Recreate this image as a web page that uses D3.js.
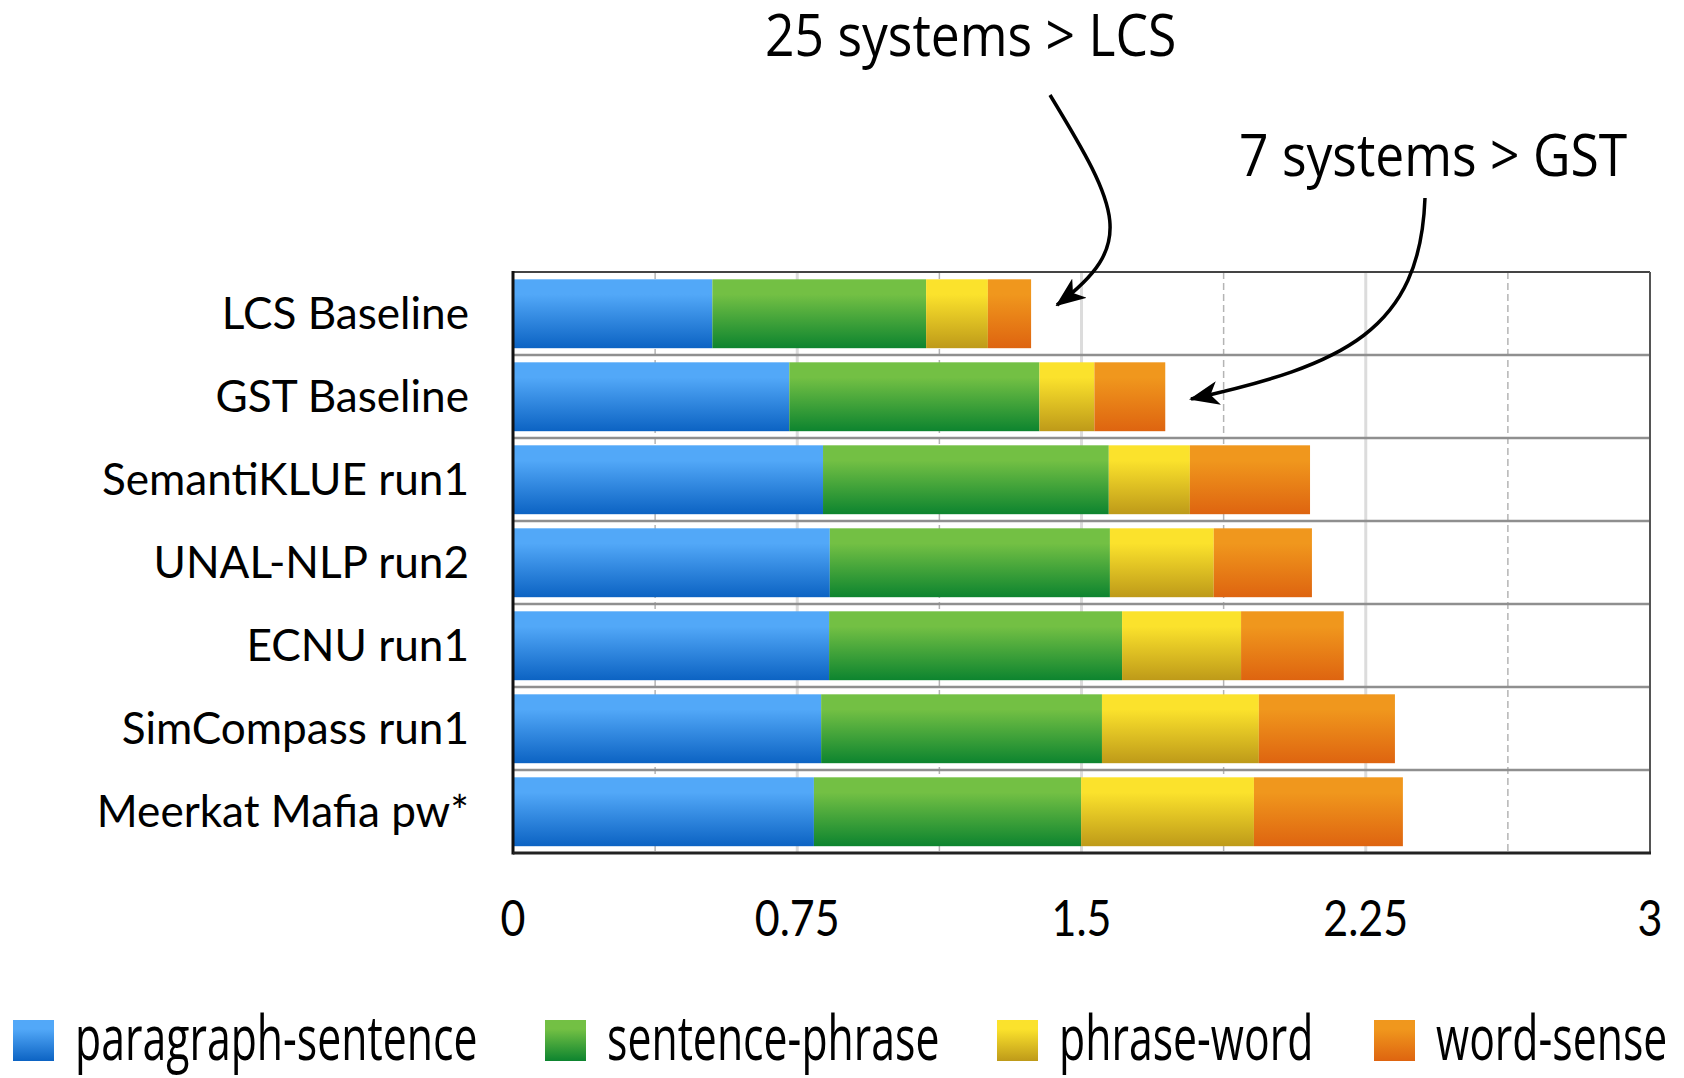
<!DOCTYPE html>
<html>
<head>
<meta charset="utf-8">
<script src="https://cdn.jsdelivr.net/npm/d3@7"></script>
<style>
  html, body { margin: 0; padding: 0; background: #fff; }
  svg { display: block; }
</style>
</head>
<body>
<svg id="chart" width="1684" height="1078"></svg>
<script>
// ---- data ----
const categories = ["LCS Baseline", "GST Baseline", "SemantiKLUE run1", "UNAL-NLP run2", "ECNU run1", "SimCompass run1", "Meerkat Mafia pw*"];
const seriesNames = ["paragraph-sentence", "sentence-phrase", "phrase-word", "word-sense"];
const paragraphSentence = [0.526, 0.729, 0.818, 0.836, 0.834, 0.813, 0.794];
const sentencePhrase    = [0.564, 0.660, 0.754, 0.739, 0.773, 0.741, 0.705];
const phraseWord        = [0.163, 0.145, 0.214, 0.274, 0.314, 0.414, 0.456];
const wordSense         = [0.114, 0.187, 0.317, 0.259, 0.271, 0.359, 0.393];
const xTicks = [0, 0.75, 1.5, 2.25, 3];
const xMinorTicks = [0.375, 1.125, 1.875, 2.625];
const annotations = ["25 systems > LCS", "7 systems > GST"];

// ---- styles ----
const gradColors = [["#52a8f8", "#0c63c3"], ["#73c044", "#0d842f"], ["#fbe22c", "#be9a19"], ["#f0971d", "#de6410"]];

const svg = d3.select("#chart");
const margin = {left: 513, right: 34, top: 272, bottom: 225};
const W = 1684, H = 1078;

const x = d3.scaleLinear().domain([0, 3]).range([margin.left, W - margin.right]);
const y = d3.scaleBand().domain(categories).range([margin.top, H - margin.bottom]).padding(0);

const table = categories.map((c, i) => ({
  cat: c,
  "paragraph-sentence": paragraphSentence[i],
  "sentence-phrase": sentencePhrase[i],
  "phrase-word": phraseWord[i],
  "word-sense": wordSense[i]
}));
const stacked = d3.stack().keys(seriesNames)(table);

// gradients
const defs = svg.append("defs");
seriesNames.forEach((s, i) => {
  const g = defs.append("linearGradient").attr("id", "g" + i)
    .attr("x1", 0).attr("y1", 0).attr("x2", 0).attr("y2", 1);
  g.append("stop").attr("offset", "0%").attr("stop-color", gradColors[i][0]);
  g.append("stop").attr("offset", "22%").attr("stop-color", gradColors[i][0]);
  g.append("stop").attr("offset", "100%").attr("stop-color", gradColors[i][1]);
});
defs.append("marker").attr("id", "arrow")
  .attr("viewBox", "0 -12 30 24").attr("refX", 28).attr("refY", 0)
  .attr("markerUnits", "userSpaceOnUse").attr("markerWidth", 30).attr("markerHeight", 24)
  .attr("orient", "auto")
  .append("path").attr("d", "M30,0 L0,-12 L8,0 L0,12 Z").attr("fill", "#000");

const [y0, y1] = y.range();

// gridlines
svg.append("g").selectAll("line").data(xTicks.slice(1, -1)).join("line")
  .attr("x1", d => x(d)).attr("x2", d => x(d)).attr("y1", y0).attr("y2", y1)
  .attr("stroke", "#dcdcdc").attr("stroke-width", 3);
svg.append("g").selectAll("line").data(xMinorTicks).join("line")
  .attr("x1", d => x(d)).attr("x2", d => x(d)).attr("y1", y0).attr("y2", y1)
  .attr("stroke", "#b4b4b4").attr("stroke-width", 1.5).attr("stroke-dasharray", "7,4");

// row separators
svg.append("g").selectAll("line").data(categories.slice(1)).join("line")
  .attr("x1", x(0)).attr("x2", x(3)).attr("y1", d => y(d)).attr("y2", d => y(d))
  .attr("stroke", "#8f8f8f").attr("stroke-width", 2.5);

// bars
const inset = y.bandwidth() * 0.088, bh = y.bandwidth() * 0.83;
svg.append("g").selectAll("g").data(stacked).join("g")
  .attr("fill", (d, i) => `url(#g${i})`)
  .selectAll("rect").data(d => d).join("rect")
  .attr("x", d => x(d[0])).attr("width", d => x(d[1]) - x(d[0]))
  .attr("y", d => y(d.data.cat) + inset).attr("height", bh);

// frame
svg.append("line").attr("x1", x(0)).attr("x2", x(3)).attr("y1", y0).attr("y2", y0).attr("stroke", "#444").attr("stroke-width", 2);
svg.append("line").attr("x1", x(3)).attr("x2", x(3)).attr("y1", y0).attr("y2", y1).attr("stroke", "#555").attr("stroke-width", 2);
svg.append("line").attr("x1", x(0)).attr("x2", x(0)).attr("y1", y0 - 1).attr("y2", y1 + 1.5).attr("stroke", "#111").attr("stroke-width", 3);
svg.append("line").attr("x1", x(0)).attr("x2", x(3) + 1).attr("y1", y1).attr("y2", y1).attr("stroke", "#222").attr("stroke-width", 3);

// horizontally condensed text via transform (keeps real bounding boxes)
function condensedText(parent, data, opts) {
  return parent.append("g").selectAll("text").data(data).join("text")
    .attr("transform", (d, i) => `translate(${opts.x(d, i)},${opts.y(d, i)}) scale(${opts.k},1)`)
    .attr("text-anchor", opts.anchor || "start")
    .attr("font-family", opts.family).attr("font-size", opts.size).attr("fill", "#000")
    .text(opts.text || (d => d));
}

// category labels
condensedText(svg, categories, {
  x: () => x(0) - 44, y: d => y(d) + y.bandwidth() / 2 + 15, k: 0.98,
  anchor: "end", family: "Lato", size: 45
});

// x tick labels
condensedText(svg, xTicks, {
  x: d => x(d), y: () => y1 + 83, k: 0.86,
  anchor: "middle", family: "Lato", size: 50, text: d => String(d)
});

// legend
const legendX = [13, 545, 997, 1374];
const lg = svg.append("g").selectAll("g").data(seriesNames).join("g")
  .attr("transform", (d, i) => `translate(${legendX[i]},1020)`);
lg.append("rect").attr("width", 41).attr("height", 41).attr("fill", (d, i) => `url(#g${i})`);
lg.append("text").attr("transform", "translate(62,40) scale(0.69,1)")
  .attr("font-family", "Open Sans").attr("font-size", 62).attr("fill", "#000")
  .text(d => d);

// annotations
const annPos = [[765, 56], [1239, 176]];
condensedText(svg, annotations, {
  x: (d, i) => annPos[i][0], y: (d, i) => annPos[i][1], k: 0.89,
  family: "Open Sans", size: 58
});

// arrows
const arrowPaths = [
  "M1050,95 C1120,210 1137,245 1057,305",
  "M1425,198 C1420,330 1345,365 1191,399"
];
svg.append("g").selectAll("path").data(arrowPaths).join("path")
  .attr("d", d => d).attr("fill", "none").attr("stroke", "#000").attr("stroke-width", 3.5)
  .attr("marker-end", "url(#arrow)");
</script>
</body>
</html>
